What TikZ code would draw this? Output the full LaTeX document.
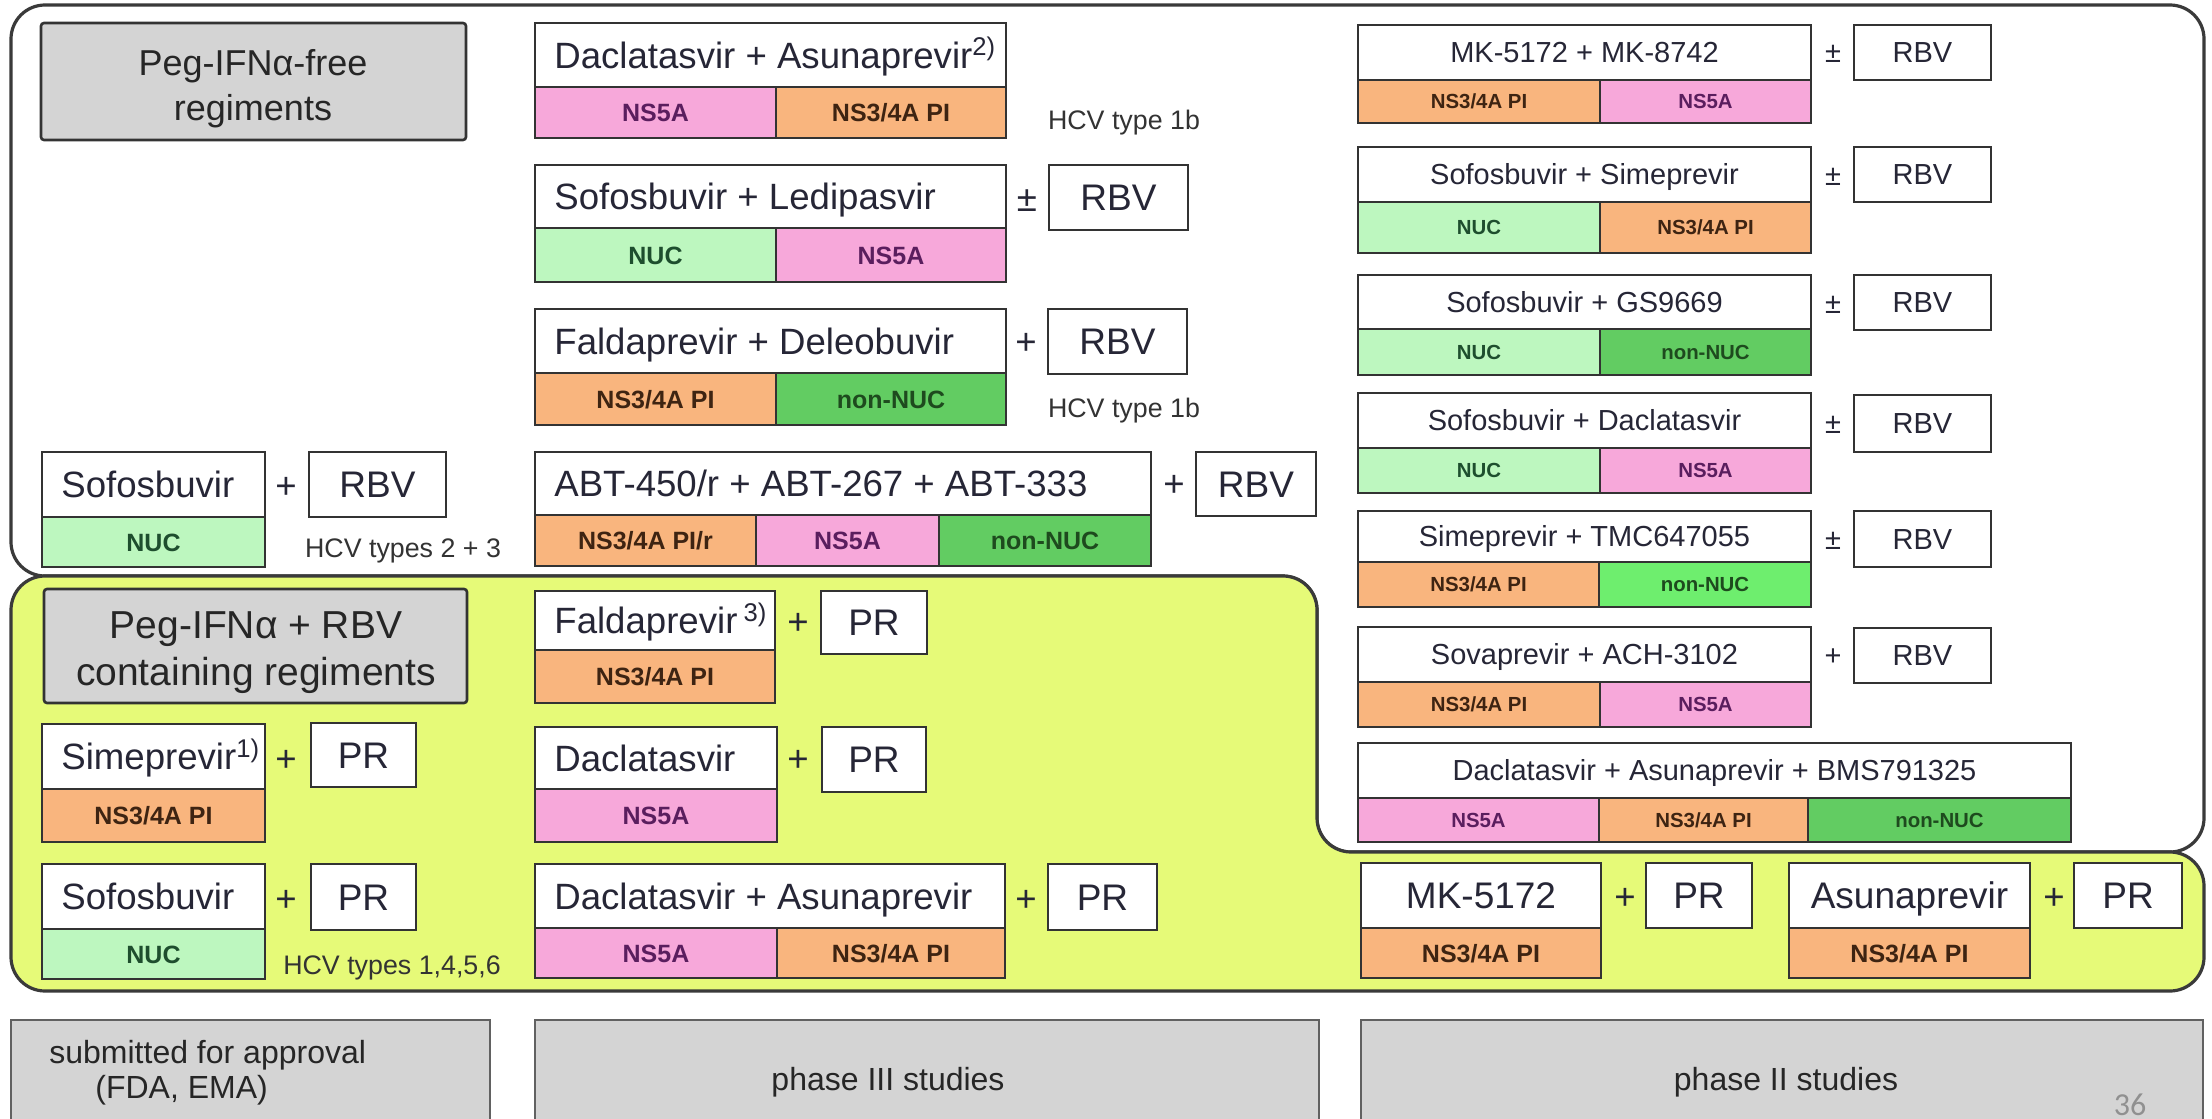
\documentclass[tikz,border=0pt]{standalone}
\usepackage{fontspec}
\setmainfont{Liberation Sans}
\newfontfamily\pagefont{Carlito}
\definecolor{pinkc}{HTML}{F7A8DA}
\definecolor{orangec}{HTML}{F9B57E}
\definecolor{lgreenc}{HTML}{BDF7BF}
\definecolor{greenc}{HTML}{62CC62}
\definecolor{bgreenc}{HTML}{6EEE6E}
\definecolor{yellowc}{HTML}{E6FA78}
\definecolor{grayc}{HTML}{D4D4D4}
\definecolor{linec}{HTML}{333333}
\definecolor{regc}{HTML}{3A3A3A}
\definecolor{maintxt}{HTML}{262636}
\definecolor{ns5atxt}{HTML}{5A1E5E}
\definecolor{pitxt}{HTML}{3E2412}
\definecolor{nuctxt}{HTML}{1E4E2E}
\definecolor{nntxt}{HTML}{1E4A1E}
\definecolor{hcvtxt}{HTML}{333333}
\definecolor{pagec}{HTML}{909090}
\newcommand{\myleft}[6]{\draw[boxline, fill=white] (#2,#4) rectangle (#3,#5); \node[bigtxt, anchor=west] (#1) at ({#2+19},{(#4+#5)/2}) {#6};}
\newcommand{\mycent}[7]{\draw[boxline, fill=white] (#2,#4) rectangle (#3,#5); \node[#7] (#1) at ({(#2+#3)/2},{(#4+#5)/2}) {#6};}
\newcommand{\myseg}[8]{\draw[boxline, fill=#6] (#2,#4) rectangle (#3,#5); \node[#7] (#1) at ({(#2+#3)/2},{(#4+#5)/2}) {#8};}
\newcommand{\mysym}[5]{\node[#4] (#1) at (#2,#3) {#5};}
\begin{document}
\begin{tikzpicture}[x=0.5pt,y=-0.5pt,
 boxline/.style={draw=linec, line width=1.3pt},
 region/.style={draw=regc, line width=1.6pt},
 bigtxt/.style={font=\fontsize{18.3}{22}\selectfont, text=maintxt, inner sep=0pt, text height=13.1pt, text depth=0pt},
 stxt/.style={font=\fontsize{18.5}{22}\selectfont, text=maintxt, inner sep=0pt, text height=13.2pt, text depth=0pt},
 rtxt/.style={font=\fontsize{14.5}{17}\selectfont, text=maintxt, inner sep=0pt, text height=10.4pt, text depth=0pt},
 labM/.style={font=\bfseries\fontsize{12.5}{15}\selectfont, inner sep=0pt, text height=9pt, text depth=0pt},
 labR/.style={font=\bfseries\fontsize{10.2}{12}\selectfont, inner sep=0pt, text height=7.3pt, text depth=0pt},
 tNSa/.style={text=ns5atxt}, tPI/.style={text=pitxt}, tNUC/.style={text=nuctxt}, tNN/.style={text=nntxt},
 hcv/.style={font=\fontsize{13.4}{16}\selectfont, text=hcvtxt, inner sep=0pt, text height=9.6pt, text depth=0pt},
 hdr/.style={draw=linec, line width=1.3pt, fill=grayc, rounded corners=1.5pt},
 hdrtxt/.style={font=\fontsize{18}{22}\selectfont, text=black!85, inner sep=0pt, anchor=base},
 hdrtxtb/.style={font=\fontsize{19.5}{23}\selectfont, text=black!85, inner sep=0pt, anchor=base},
 foot/.style={draw=regc!80, line width=1.2pt, fill=grayc},
 foottxt/.style={font=\fontsize{16}{19}\selectfont, text=black!85, inner sep=0pt, anchor=base},
 pagenum/.style={font=\pagefont\fontsize{16}{19}\selectfont, text=pagec, inner sep=0pt, anchor=base}
]
\useasboundingbox (0,0) rectangle (2212,1119);
\clip (0,0) rectangle (2212,1119);
\fill[white] (0,0) rectangle (2212,1119);
% regions
\draw[region, fill=white, rounded corners=17pt] (11,300) -- (11,5) -- (2204,5) -- (2204,852) -- (1317,852) -- (1317,576) -- (11,576) -- cycle;
\draw[region, fill=yellowc, rounded corners=17pt] (11,800) -- (11,576) -- (1317,576) -- (1317,852) -- (2204,852) -- (2204,991) -- (11,991) -- cycle;
% left column
\draw[hdr] (41,23) rectangle (466,140);
\node[hdrtxt] (h1a) at (253,75) {Peg-IFNα-free};
\node[hdrtxt] (h1b) at (253,120) {regiments};
\myleft{l1}{42}{265}{452}{517}{Sofosbuvir}
\myseg{l1a}{42}{265}{517}{567}{lgreenc}{labM,tNUC}{NUC}
\mysym{l1s}{286}{485}{bigtxt}{+}
\mycent{l1r}{309}{446}{452}{517}{RBV}{stxt}
\node[hcv] (l1h) at (403,548) {HCV types 2 + 3};
\draw[hdr] (44,589) rectangle (467,703);
\node[hdrtxtb] (h2a) at (256,638) {Peg-IFNα + RBV};
\node[hdrtxtb] (h2b) at (256,685) {containing regiments};
\myleft{l2}{42}{265}{724}{789}{Simeprevir\textsuperscript{1)}}
\myseg{l2a}{42}{265}{789}{842}{orangec}{labM,tPI}{NS3/4A PI}
\mysym{l2s}{286}{758}{bigtxt}{+}
\mycent{l2r}{311}{416}{723}{787}{PR}{stxt}
\myleft{l3}{42}{265}{864}{929}{Sofosbuvir}
\myseg{l3a}{42}{265}{929}{979}{lgreenc}{labM,tNUC}{NUC}
\mysym{l3s}{286}{898}{bigtxt}{+}
\mycent{l3r}{311}{416}{864}{930}{PR}{stxt}
\node[hcv] (l3h) at (392,965) {HCV types 1,4,5,6};
% middle column
\myleft{m1}{535}{1006}{23}{87}{Daclatasvir + Asunaprevir\textsuperscript{2)}}
\myseg{m1a}{535}{776}{87}{138}{pinkc}{labM,tNSa}{NS5A}
\myseg{m1b}{776}{1006}{87}{138}{orangec}{labM,tPI}{NS3/4A PI}
\node[hcv] (m1h) at (1124,120) {HCV type 1b};
\myleft{m2}{535}{1006}{165}{228}{Sofosbuvir + Ledipasvir}
\myseg{m2a}{535}{776}{228}{282}{lgreenc}{labM,tNUC}{NUC}
\myseg{m2b}{776}{1006}{228}{282}{pinkc}{labM,tNSa}{NS5A}
\mysym{m2s}{1027}{198}{bigtxt}{±}
\mycent{m2r}{1049}{1188}{165}{230}{RBV}{stxt}
\myleft{m3}{535}{1006}{309}{373}{Faldaprevir + Deleobuvir}
\myseg{m3a}{535}{776}{373}{425}{orangec}{labM,tPI}{NS3/4A PI}
\myseg{m3b}{776}{1006}{373}{425}{greenc}{labM,tNN}{non-NUC}
\mysym{m3s}{1026}{341}{bigtxt}{+}
\mycent{m3r}{1048}{1187}{309}{374}{RBV}{stxt}
\node[hcv] (m3h) at (1124,408) {HCV type 1b};
\myleft{m4}{535}{1151}{452}{515}{ABT-450/r + ABT-267 + ABT-333}
\myseg{m4a}{535}{756}{515}{566}{orangec}{labM,tPI}{NS3/4A PI/r}
\myseg{m4b}{756}{939}{515}{566}{pinkc}{labM,tNSa}{NS5A}
\myseg{m4c}{939}{1151}{515}{566}{greenc}{labM,tNN}{non-NUC}
\mysym{m4s}{1174}{483}{bigtxt}{+}
\mycent{m4r}{1196}{1316}{452}{516}{RBV}{stxt}
\myleft{m5}{535}{775}{591}{650}{Faldaprevir\,\textsuperscript{3)}}
\myseg{m5a}{535}{775}{650}{703}{orangec}{labM,tPI}{NS3/4A PI}
\mysym{m5s}{798}{621}{bigtxt}{+}
\mycent{m5r}{821}{927}{591}{654}{PR}{stxt}
\myleft{m6}{535}{777}{727}{789}{Daclatasvir}
\myseg{m6a}{535}{777}{789}{842}{pinkc}{labM,tNSa}{NS5A}
\mysym{m6s}{798}{758}{bigtxt}{+}
\mycent{m6r}{822}{926}{727}{792}{PR}{stxt}
\myleft{m7}{535}{1005}{864}{928}{Daclatasvir + Asunaprevir}
\myseg{m7a}{535}{777}{928}{978}{pinkc}{labM,tNSa}{NS5A}
\myseg{m7b}{777}{1005}{928}{978}{orangec}{labM,tPI}{NS3/4A PI}
\mysym{m7s}{1026}{898}{bigtxt}{+}
\mycent{m7r}{1048}{1157}{864}{930}{PR}{stxt}
% right column
\mycent{r1}{1358}{1811}{25}{80}{MK-5172 + MK-8742}{rtxt}
\myseg{r1a}{1358}{1600}{80}{123}{orangec}{labR,tPI}{NS3/4A PI}
\myseg{r1b}{1600}{1811}{80}{123}{pinkc}{labR,tNSa}{NS5A}
\mysym{r1s}{1833}{52}{rtxt}{±}
\mycent{r1r}{1854}{1991}{25}{80}{RBV}{rtxt}
\mycent{r2}{1358}{1811}{147}{202}{Sofosbuvir + Simeprevir}{rtxt}
\myseg{r2a}{1358}{1600}{202}{253}{lgreenc}{labR,tNUC}{NUC}
\myseg{r2b}{1600}{1811}{202}{253}{orangec}{labR,tPI}{NS3/4A PI}
\mysym{r2s}{1833}{175}{rtxt}{±}
\mycent{r2r}{1854}{1991}{147}{202}{RBV}{rtxt}
\mycent{r3}{1358}{1811}{275}{329}{Sofosbuvir + GS9669}{rtxt}
\myseg{r3a}{1358}{1600}{329}{375}{lgreenc}{labR,tNUC}{NUC}
\myseg{r3b}{1600}{1811}{329}{375}{greenc}{labR,tNN}{non-NUC}
\mysym{r3s}{1833}{303}{rtxt}{±}
\mycent{r3r}{1854}{1991}{275}{330}{RBV}{rtxt}
\mycent{r4}{1358}{1811}{393}{448}{Sofosbuvir + Daclatasvir}{rtxt}
\myseg{r4a}{1358}{1600}{448}{493}{lgreenc}{labR,tNUC}{NUC}
\myseg{r4b}{1600}{1811}{448}{493}{pinkc}{labR,tNSa}{NS5A}
\mysym{r4s}{1833}{423}{rtxt}{±}
\mycent{r4r}{1854}{1991}{395}{452}{RBV}{rtxt}
\mycent{r5}{1358}{1811}{511}{562}{Simeprevir + TMC647055}{rtxt}
\myseg{r5a}{1358}{1599}{562}{607}{orangec}{labR,tPI}{NS3/4A PI}
\myseg{r5b}{1599}{1811}{562}{607}{bgreenc}{labR,tNN}{non-NUC}
\mysym{r5s}{1833}{539}{rtxt}{±}
\mycent{r5r}{1854}{1991}{511}{567}{RBV}{rtxt}
\mycent{r6}{1358}{1811}{627}{682}{Sovaprevir + ACH-3102}{rtxt}
\myseg{r6a}{1358}{1600}{682}{727}{orangec}{labR,tPI}{NS3/4A PI}
\myseg{r6b}{1600}{1811}{682}{727}{pinkc}{labR,tNSa}{NS5A}
\mysym{r6s}{1833}{655}{rtxt}{+}
\mycent{r6r}{1854}{1991}{628}{683}{RBV}{rtxt}
\mycent{r7}{1358}{2071}{743}{798}{Daclatasvir + Asunaprevir + BMS791325}{rtxt}
\myseg{r7a}{1358}{1599}{798}{842}{pinkc}{labR,tNSa}{NS5A}
\myseg{r7b}{1599}{1808}{798}{842}{orangec}{labR,tPI}{NS3/4A PI}
\myseg{r7c}{1808}{2071}{798}{842}{greenc}{labR,tNN}{non-NUC}
% bottom strip
\mycent{b1}{1361}{1601}{863}{928}{MK-5172}{stxt}
\myseg{b1a}{1361}{1601}{928}{978}{orangec}{labM,tPI}{NS3/4A PI}
\mysym{b1s}{1625}{896}{bigtxt}{+}
\mycent{b1r}{1646}{1752}{863}{928}{PR}{stxt}
\mycent{b2}{1789}{2030}{863}{928}{Asunaprevir}{stxt}
\myseg{b2a}{1789}{2030}{928}{978}{orangec}{labM,tPI}{NS3/4A PI}
\mysym{b2s}{2054}{896}{bigtxt}{+}
\mycent{b2r}{2074}{2182}{863}{928}{PR}{stxt}
% footer
\draw[foot] (11,1020) rectangle (490,1135);
\draw[foot] (535,1020) rectangle (1319,1135);
\draw[foot] (1361,1020) rectangle (2203,1135);
\node[foottxt, anchor=base west] (f1a) at (49,1063) {submitted for approval};
\node[foottxt, anchor=base west] (f1b) at (95,1098) {(FDA, EMA)};
\node[foottxt] (f2) at (888,1090) {phase III studies};
\node[foottxt] (f3) at (1786,1090) {phase II studies};
\node[pagenum] (pg) at (2130,1115) {36};
\end{tikzpicture}
\end{document}
